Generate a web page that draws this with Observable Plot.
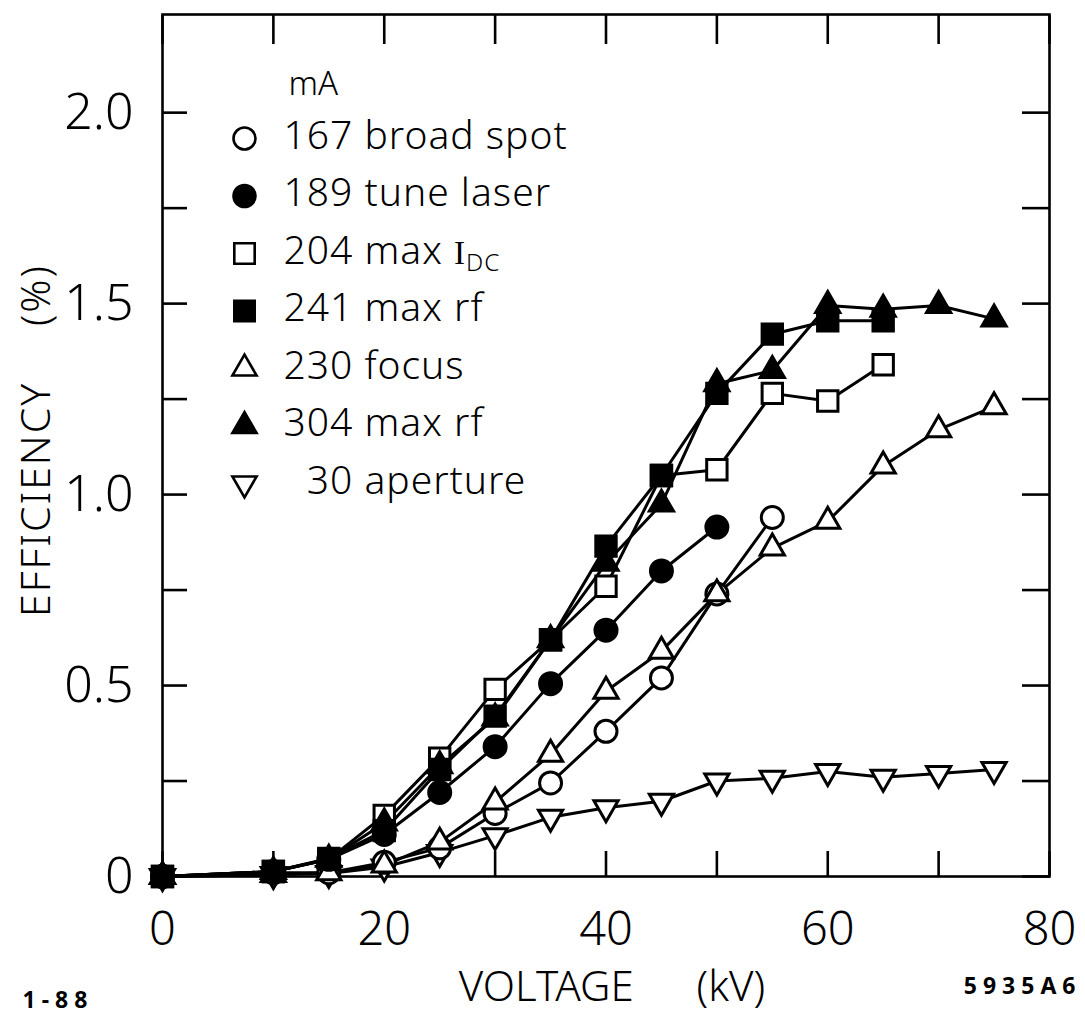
<!DOCTYPE html>
<html>
<head>
<meta charset="utf-8">
<script src="https://cdn.jsdelivr.net/npm/d3@7"></script>
<script src="https://cdn.jsdelivr.net/npm/@observablehq/plot@0.6"></script>
<style>
  html, body { margin: 0; padding: 0; background: #fff; }
  #chart svg { display: block; }
</style>
</head>
<body>
<div id="chart"></div>
<script>
// ---------------- data ----------------
const voltage = [0, 10, 15, 20, 25, 30, 35, 40, 45, 50, 55, 60, 65, 70, 75];
const broadSpot167 = [0, 0.01, 0.01, 0.037, 0.075, 0.165, 0.245, 0.38, 0.52, 0.74, 0.94];
const tuneLaser189 = [0, 0.013, 0.045, 0.11, 0.22, 0.34, 0.505, 0.645, 0.80, 0.915];
const maxIdc204 = [0, 0.013, 0.045, 0.16, 0.31, 0.49, 0.62, 0.76, 1.05, 1.065, 1.265, 1.245, 1.34];
const maxRf241 = [0, 0.013, 0.047, 0.12, 0.28, 0.42, 0.62, 0.865, 1.05, 1.265, 1.42, 1.455, 1.455];
const focus230 = [0, 0.005, 0.01, 0.03, 0.09, 0.195, 0.32, 0.485, 0.59, 0.74, 0.86, 0.93, 1.075, 1.17, 1.23];
const maxRf304 = [0, 0.013, 0.045, 0.14, 0.29, 0.415, 0.62, 0.82, 0.975, 1.29, 1.325, 1.495, 1.485, 1.495, 1.46];
const aperture30 = [0, 0.005, 0.008, 0.025, 0.063, 0.107, 0.155, 0.18, 0.197, 0.25, 0.257, 0.275, 0.26, 0.27, 0.28];

const seriesCurrents = ["167", "189", "204", "241", "230", "304", "\u200730"];
const seriesNames = ["broad spot", "tune laser", "max IDC", "max rf", "focus", "max rf", "aperture"];
const seriesValues = [broadSpot167, tuneLaser189, maxIdc204, maxRf241, focus230, maxRf304, aperture30];

const xTicks = [0, 10, 20, 30, 40, 50, 60, 70, 80];
const xTickLabels = [0, 20, 40, 60, 80];
const yTicks = [0, 0.25, 0.5, 0.75, 1.0, 1.25, 1.5, 1.75, 2.0];
const yTickLabels = [0, 0.5, 1.0, 1.5, 2.0];
const legendTitle = "mA";
const xLabel = "VOLTAGE\u2003\u2002(kV)";
const yLabel = "EFFICIENCY\u2003 (%)";
const noteLeft = "1-88";
const noteRight = "5935A6";

// ---------------- styles ----------------
const FONT = "'Noto Sans', 'DejaVu Sans', sans-serif";
function tri(dir) {
  return {
    draw(ctx, size) {
      const r = Math.sqrt(size / Math.PI);
      const s = 2.2 * r, h = s * Math.sqrt(3) / 2;
      ctx.moveTo(0, -dir * 2 * h / 3);
      ctx.lineTo(s / 2, dir * h / 3);
      ctx.lineTo(-s / 2, dir * h / 3);
      ctx.closePath();
    }
  };
}
const markerStyles = [
  {symbol: "circle", filled: false, r: 11},
  {symbol: "circle", filled: true, r: 11},
  {symbol: "square", filled: false, r: 11.5},
  {symbol: "square", filled: true, r: 11.5},
  {symbol: tri(1), filled: false, r: 11},
  {symbol: tri(1), filled: true, r: 11},
  {symbol: tri(-1), filled: false, r: 11}
];
const drawOrder = [6, 0, 4, 1, 2, 5, 3];

const series = seriesValues.map((vals, i) =>
  vals.map((e, j) => ({v: voltage[j], e})).filter(d => d.e != null)
);

const W = 1085, H = 1013;
const M = {top: 14, right: 36, bottom: 137, left: 162};
const STROKE = 3;

const marks = [];
// axis ticks (inward)
marks.push(Plot.axisX(xTicks, {anchor: "bottom", tickSize: 25, dy: -25, fill: "none", strokeWidth: 2.6, label: null}));
marks.push(Plot.axisX(xTicks, {anchor: "top", tickSize: 29, dy: 29, fill: "none", strokeWidth: 2.6, label: null}));
marks.push(Plot.axisY(yTicks, {anchor: "left", tickSize: 25, dx: 25, fill: "none", strokeWidth: 2.6, label: null}));
marks.push(Plot.axisY(yTicks, {anchor: "right", tickSize: 28, dx: -28, fill: "none", strokeWidth: 2.6, label: null}));
// tick labels
marks.push(Plot.axisX(xTickLabels, {anchor: "bottom", tickSize: 0, tickPadding: 35, fontSize: 47, fontWeight: 300, label: null, tickFormat: d => String(d)}));
marks.push(Plot.axisY(yTickLabels, {anchor: "left", tickSize: 0, tickPadding: 29, fontSize: 50, fontWeight: 300, label: null, tickFormat: d => d === 0 ? "0" : d.toFixed(1)}));
marks.push(Plot.frame({stroke: "black", strokeWidth: 2.6}));

// lines
for (const i of drawOrder) {
  marks.push(Plot.line(series[i], {x: "v", y: "e", stroke: "black", strokeWidth: STROKE}));
}
// markers
for (const i of drawOrder) {
  const s = markerStyles[i];
  marks.push(Plot.dot(series[i], {
    x: "v", y: "e", symbol: s.symbol, r: s.r,
    fill: s.filled ? "black" : "white", stroke: "black", strokeWidth: STROKE
  }));
}

// legend
const LEG = {markerDx: 82, textDx: 121, firstDy: 124, step: 57.5};
marks.push(Plot.text([legendTitle], {frameAnchor: "top-left", dx: 126, dy: 70, textAnchor: "start", lineAnchor: "middle", fontSize: 33, fontWeight: 300}));
seriesNames.forEach((name, i) => {
  const s = markerStyles[i];
  const dy = LEG.firstDy + LEG.step * i;
  marks.push(Plot.dot([name], {frameAnchor: "top-left", dx: LEG.markerDx, dy, symbol: s.symbol, r: s.r,
    fill: s.filled ? "black" : "white", stroke: "black", strokeWidth: 2.6}));
  marks.push(Plot.text([seriesCurrents[i] + " " + name], {frameAnchor: "top-left", dx: LEG.textDx, dy: dy - 2,
    textAnchor: "start", lineAnchor: "middle", fontSize: 39, fontWeight: 300, className: "legend-text"}));
});

// axis titles and notes
marks.push(Plot.text([xLabel], {frameAnchor: "bottom", dx: 6, dy: 111, textAnchor: "middle", lineAnchor: "middle", fontSize: 42, fontWeight: 300}));
marks.push(Plot.text([yLabel], {frameAnchor: "left", dx: -126, dy: -5, rotate: -90, textAnchor: "middle", lineAnchor: "middle", fontSize: 41, fontWeight: 300, className: "ylabel"}));
marks.push(Plot.text([noteLeft], {frameAnchor: "bottom-left", dx: -140, dy: 124, textAnchor: "start", lineAnchor: "middle", fontSize: 23, fontWeight: "bold", className: "note"}));
marks.push(Plot.text([noteRight], {frameAnchor: "bottom-right", dx: 32, dy: 110, textAnchor: "end", lineAnchor: "middle", fontSize: 23, fontWeight: "bold", className: "note"}));

const chart = Plot.plot({
  width: W, height: H,
  marginTop: M.top, marginRight: M.right, marginBottom: M.bottom, marginLeft: M.left,
  x: {domain: [0, 80]},
  y: {domain: [0, 2.257]},
  style: {fontFamily: FONT, background: "white", color: "black", overflow: "visible"},
  marks
});

// subscript "DC" in the legend entry "204 max IDC"
chart.querySelectorAll("text").forEach(t => {
  if (t.textContent === "204 max IDC") {
    t.innerHTML = '204 max <tspan font-family="Liberation Serif" font-weight="normal" font-size="0.85em">I</tspan><tspan font-size="0.62em" dy="0.3em">DC</tspan>';
  }
});
chart.querySelectorAll("g.note").forEach(g => g.setAttribute("letter-spacing", "6"));
chart.querySelectorAll("g.legend-text").forEach(g => g.setAttribute("letter-spacing", "1"));
chart.querySelectorAll("g.ylabel").forEach(g => g.setAttribute("letter-spacing", "2"));

document.getElementById("chart").appendChild(chart);
</script>
</body>
</html>
